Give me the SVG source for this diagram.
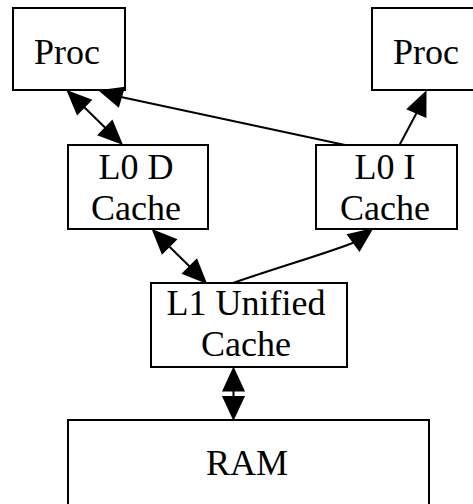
<svg xmlns="http://www.w3.org/2000/svg" width="473" height="504" viewBox="0 0 473 504">
<style>
.box{fill:#fff;stroke:#000;stroke-width:2}
.t{font-family:"Liberation Serif","Times New Roman",serif;font-size:36px;fill:#000;text-anchor:middle}
.e{fill:none;stroke:#000;stroke-width:2}
.a{fill:#000;stroke:#000;stroke-width:2}
</style>
<rect width="473" height="504" fill="#fff"/>
<g id="procL"><rect class="box" x="13" y="8" width="112" height="82"/><text class="t" x="67" y="64">Proc</text></g>
<g id="procR"><rect class="box" x="372" y="8" width="112" height="82"/><text class="t" x="426" y="64">Proc</text></g>
<g id="l0d"><rect class="box" x="68" y="145" width="140" height="84"/><text class="t" x="136" y="179">L0 D</text><text class="t" x="136" y="220">Cache</text></g>
<g id="l0i"><rect class="box" x="316" y="145" width="141" height="84"/><text class="t" x="385" y="179">L0 I</text><text class="t" x="385" y="220">Cache</text></g>
<g id="l1"><rect class="box" x="151" y="283" width="196" height="84"/><text class="t" x="246" y="315">L1 Unified</text><text class="t" x="246" y="356">Cache</text></g>
<g id="ram"><rect class="box" x="68" y="420" width="361" height="100"/><text class="t" x="247" y="475">RAM</text></g>
<g id="edges">
<path class="e" d="M84,107 L105.5,128"/>
<polygon class="a" points="68.2,91.7 90.6,100.2 77.4,113.8"/>
<polygon class="a" points="121.3,143.3 112.1,121.2 98.9,134.8"/>
<path class="e" d="M345,145 L121,97"/>
<polygon class="a" points="100.5,91 123.7,87.9 118.3,106.1"/>
<path class="e" d="M399.5,145 L416.7,112.7"/>
<polygon class="a" points="425.5,92.5 425.4,116.5 408,108.9"/>
<path class="e" d="M169,246.2 L189.9,266.8"/>
<polygon class="a" points="153.4,230.7 175.7,239.5 162.3,252.9"/>
<polygon class="a" points="205.5,282.3 196.6,260.1 183.2,273.5"/>
<path class="e" d="M233,283 C285,265 325,254 353.8,242.5"/>
<polygon class="a" points="371.5,229.5 359.4,250.1 348.2,234.9"/>
<path class="e" d="M233.5,390.5 L233.5,397"/>
<polygon class="a" points="233.5,368.8 243.5,390.5 223.5,390.5"/>
<polygon class="a" points="233.5,418.5 223.5,397 243.5,397"/>
</g>
</svg>
